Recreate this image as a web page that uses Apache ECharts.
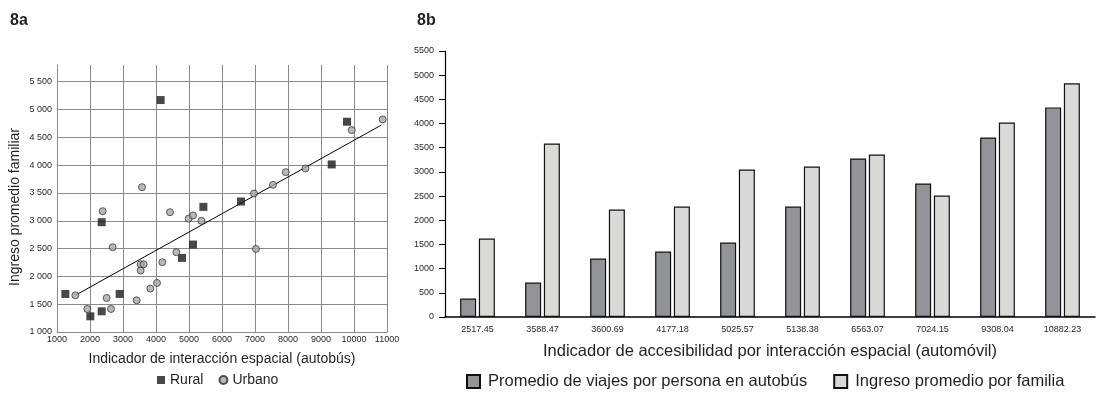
<!DOCTYPE html>
<html>
<head>
<meta charset="utf-8">
<script src="https://cdn.jsdelivr.net/npm/echarts@6/dist/echarts.min.js"></script>
<style>
  html, body { margin: 0; padding: 0; background: #fff; }
  #chart { width: 1096px; height: 397px; }
</style>
</head>
<body>
<div id="chart"></div>
<script>
// 8a - scatter: indicador de interaccion espacial (autobus) vs ingreso
var ruralX = [1253, 2010, 2354, 2354, 2899, 4141, 4788, 5121, 5436, 6576, 9324, 9788];
var ruralY = [1684, 1282, 1372, 2974, 1684, 5170, 2332, 2572, 3250, 3346, 4012, 4780];

var urbanX = [1556, 1919, 2384, 2505, 2636, 2687, 3414, 3535, 3535, 3576, 3626, 3828, 4030,
              4192, 4424, 4616, 4990, 5121, 5376, 6970, 7030, 7545, 7930, 8527, 9930, 10870];
var urbanY = [1660, 1414, 3172, 1612, 1414, 2524, 1570, 2218, 2104, 3604, 2218, 1780, 1882,
              2254, 3154, 2434, 3040, 3094, 2998, 3490, 2494, 3646, 3874, 3940, 4630, 4822];

// fitted line, two ends
var trendX = [1556, 10830];
var trendY = [1660, 4720];

// 8b - bars
var categories = ['2517.45', '3588.47', '3600.69', '4177.18', '5025.57',
                  '5138.38', '6563.07', '7024.15', '9308.04', '10882.23'];
var viajesBus = [380, 711, 1208, 1353, 1539, 2284, 3278, 2760, 3713, 4334];
var ingresoFam = [1622, 3588, 2222, 2284, 3050, 3112, 3361, 2512, 4023, 4831];

var FONT = 'Liberation Sans';
var INK = '#231f20';
var GRIDC = '#8a8a8a';

function zip(xs, ys) {
  return xs.map(function (x, i) { return [x, ys[i]]; });
}
function spaced(v) {
  var s = String(v);
  return s.length > 3 ? s.slice(0, s.length - 3) + ' ' + s.slice(-3) : s;
}
function plain(v) { return String(v); }

var chart = echarts.init(document.getElementById('chart'));

var option = {
  animation: false,
  textStyle: { fontFamily: FONT, color: INK },
  title: [
    { text: '8a', left: 5, top: 8, textStyle: { fontFamily: FONT, fontSize: 16, fontWeight: 'bold', color: INK } },
    { text: '8b', left: 412, top: 8, textStyle: { fontFamily: FONT, fontSize: 16, fontWeight: 'bold', color: INK } }
  ],
  graphic: [
    {
      type: 'text', x: 15, y: 207, rotation: Math.PI / 2,
      style: {
        text: 'Ingreso promedio familiar', fontFamily: FONT, fontSize: 14,
        fill: INK, align: 'center', verticalAlign: 'middle'
      }
    }
  ],
  legend: [
    {
      data: [{ name: 'Rural', icon: 'rect' }, { name: 'Urbano', icon: 'circle' }],
      left: 157, top: 373, padding: 0, itemWidth: 8, itemHeight: 8, itemGap: 15,
      textStyle: { fontFamily: FONT, fontSize: 14, color: INK }
    },
    {
      data: ['Promedio de viajes por persona en autobús', 'Ingreso promedio por familia'],
      icon: 'rect', left: 466, top: 373, padding: 0, itemWidth: 13, itemHeight: 13, itemGap: 26,
      textStyle: { fontFamily: FONT, fontSize: 16.5, color: INK, padding: [0, 0, 0, 3] }
    }
  ],
  grid: [
    { left: 57, right: 709, top: 65, bottom: 65 },
    { left: 445, right: 1, top: 51, bottom: 80 }
  ],
  xAxis: [
    {
      gridIndex: 0, type: 'value', min: 1000, max: 11000, interval: 1000,
      name: 'Indicador de interacción espacial (autobús)',
      nameLocation: 'middle', nameGap: 20,
      nameTextStyle: { fontFamily: FONT, fontSize: 14, color: INK },
      axisLine: { show: true, lineStyle: { color: GRIDC, width: 1 } },
      axisTick: { show: false },
      axisLabel: { fontSize: 9, color: INK, margin: 3, formatter: plain },
      splitLine: { show: true, lineStyle: { color: GRIDC, width: 1 } }
    },
    {
      gridIndex: 1, type: 'category', data: categories,
      name: 'Indicador de accesibilidad por interacción espacial (automóvil)',
      nameLocation: 'middle', nameGap: 26,
      nameTextStyle: { fontFamily: FONT, fontSize: 16.5, color: INK },
      axisLine: { lineStyle: { color: '#000', width: 1.5 } },
      axisTick: { show: false },
      axisLabel: { fontSize: 9, color: INK, margin: 8 }
    }
  ],
  yAxis: [
    {
      gridIndex: 0, type: 'value', min: 1000, max: 5800, interval: 500,
      axisLine: { show: true, lineStyle: { color: GRIDC, width: 1 } },
      axisTick: { show: false },
      axisLabel: {
        fontSize: 9, color: INK, margin: 5,
        formatter: function (v) { return (v % 500 === 0 && v <= 5500) ? spaced(v) : ''; }
      },
      splitLine: { show: true, showMaxLine: false, lineStyle: { color: GRIDC, width: 1 } }
    },
    {
      gridIndex: 1, type: 'value', min: 0, max: 5500, interval: 500,
      axisLine: { show: true, lineStyle: { color: '#000', width: 1.2 } },
      axisTick: { show: true, length: 6, lineStyle: { color: '#000', width: 1 } },
      axisLabel: { fontSize: 9, color: INK, margin: 11, formatter: plain },
      splitLine: { show: false }
    }
  ],
  series: [
    {
      name: 'Tendencia', type: 'line', xAxisIndex: 0, yAxisIndex: 0,
      data: zip(trendX, trendY), showSymbol: false, silent: true,
      lineStyle: { color: '#000', width: 1 }, z: 3
    },
    {
      name: 'Rural', type: 'scatter', xAxisIndex: 0, yAxisIndex: 0,
      data: zip(ruralX, ruralY), symbol: 'rect', symbolSize: 8,
      itemStyle: { color: '#1a1a1a' }, z: 4
    },
    {
      name: 'Urbano', type: 'scatter', xAxisIndex: 0, yAxisIndex: 0,
      data: zip(urbanX, urbanY), symbol: 'circle', symbolSize: 7,
      itemStyle: { color: '#a7a7a7', borderColor: '#2a2a2a', borderWidth: 0.9 }, z: 4
    },
    {
      name: 'Promedio de viajes por persona en autobús', type: 'bar',
      xAxisIndex: 1, yAxisIndex: 1, data: viajesBus,
      barWidth: 16, barGap: '17%',
      itemStyle: { color: '#939498', borderColor: '#111', borderWidth: 1.2 }
    },
    {
      name: 'Ingreso promedio por familia', type: 'bar',
      xAxisIndex: 1, yAxisIndex: 1, data: ingresoFam,
      barWidth: 16, barGap: '17%',
      itemStyle: { color: '#d9d9d7', borderColor: '#111', borderWidth: 1.2 }
    }
  ]
};

chart.setOption(option);
</script>
</body>
</html>
